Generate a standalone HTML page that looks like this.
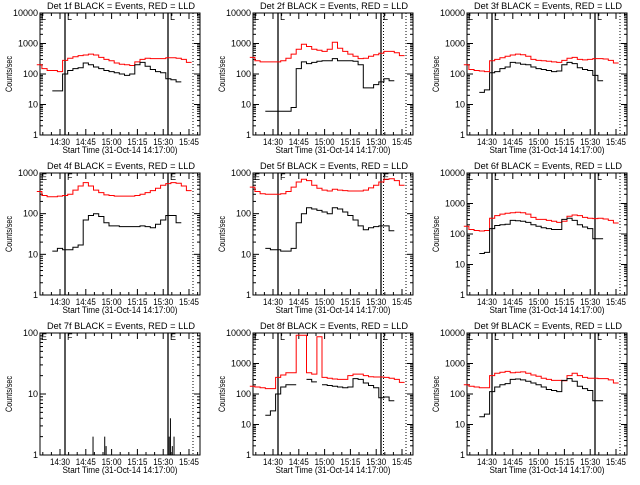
<!DOCTYPE html>
<html><head><meta charset="utf-8"><style>
body{margin:0;background:#fff;width:640px;height:480px;overflow:hidden}
svg text{font-family:"Liberation Sans",sans-serif;font-size:9px;fill:#000}
</style></head><body>
<svg id="c" width="640" height="480" viewBox="0 0 640 480"></svg>
<script>
// time grid in minutes after 14:00
const times=[18,21,24,27,30,33,36,39,42,45,48,51,54,57,60,63,66,69,72,75,78,81,84,87,90,93,96,99,102,105];
const tickLabels=["14:30","14:45","15:00","15:15","15:30","15:45"];
const tickTimes=[30,45,60,75,90,105];
const N=null;
const red1=[200,150,130,130,120,280,330,370,400,420,450,420,350,300,270,230,210,200,190,250,300,330,320,320,320,340,340,330,300,240];
const black1=[N,N,N,28,28,100,130,150,160,230,200,170,150,130,120,110,100,90,100,200,240,180,140,120,110,70,65,55,N,N];
const red2=[350,270,250,250,250,250,270,330,450,650,950,800,650,600,550,650,1100,700,550,450,380,320,330,380,430,480,550,550,500,400];
const black2=[N,N,N,6,6,6,6,6,8,150,250,220,240,260,270,270,320,270,270,270,260,200,35,35,45,55,70,60,N,N];
const red3=[200,140,130,125,120,270,300,340,380,420,450,430,380,300,280,270,260,250,240,280,330,350,300,290,300,320,320,310,280,230];
const black3=[N,N,N,25,30,110,120,150,170,240,230,210,200,170,150,140,130,120,125,200,240,220,160,140,130,90,60,N,N,N];
const red4=[350,280,260,260,270,280,300,380,480,580,480,380,330,290,280,270,270,270,270,280,300,330,370,420,500,550,580,560,480,370];
const black4=[N,N,N,12,14,13,13,15,17,70,90,100,85,60,50,50,48,48,48,48,50,48,45,55,70,90,90,60,N,N];
const red5=[450,350,310,300,300,300,310,350,450,600,700,650,500,420,380,360,400,380,370,360,360,360,380,430,500,600,700,720,650,500];
const black5=[N,N,N,14,13,13,12,12,14,60,100,140,130,120,110,100,140,130,110,90,70,50,40,45,48,50,50,38,N,N];
const red6=[180,140,130,125,130,330,400,450,480,500,520,500,450,350,300,300,280,260,240,260,380,420,400,350,330,320,330,310,280,230];
const black6=[N,N,N,23,25,150,190,200,210,280,270,260,240,200,180,160,150,140,140,300,330,280,200,170,150,70,70,N,N,N];
const spikeTimes7=[49.2,56,56.8,93.5,94.2,95.3,96.3];
const spikeVals7=[2,2,1.4,2,4,1.4,2];
const red8=[180,170,160,150,150,350,420,500,500,8500,8500,500,450,7500,350,330,310,300,300,400,450,450,400,370,360,360,350,330,300,240];
const black8=[N,N,N,20,28,100,170,200,200,N,N,300,250,N,200,190,180,170,160,170,320,300,230,190,160,75,80,60,N,N];
const red9=[200,180,170,160,160,400,480,520,550,500,520,530,480,420,380,330,300,280,280,270,400,480,400,350,330,330,320,320,290,230];
const black9=[N,N,N,18,22,120,170,200,220,300,310,290,260,230,200,170,140,130,120,280,320,260,180,150,130,60,60,N,N,N];
const detNames=["1f","2f","3f","4f","5f","6f","7f","8f","9f"];
const decades=[4,4,4,3,3,4,2,4,4];
const reds=[red1,red2,red3,red4,red5,red6,null,red8,red9];
const blacks=[black1,black2,black3,black4,black5,black6,null,black8,black9];
const extraDotted=[false,true,false,false,true,false,false,true,false];

const svg=document.getElementById('c');
const NS="http://www.w3.org/2000/svg";
function mk(tag,attrs,parent){const e=document.createElementNS(NS,tag);for(const k in attrs)e.setAttribute(k,attrs[k]);(parent||svg).appendChild(e);return e;}
function txt(s,x,y,anchor,parent,len,size){const a={x:x,y:y,'text-anchor':anchor||'start'};if(len){a.textLength=len;a.lengthAdjust='spacingAndGlyphs';}if(size)a['font-size']=size;const t=mk('text',a,parent);t.textContent=s;return t;}

for(let p=0;p<9;p++){
  const col=p%3,row=Math.floor(p/3);
  const ox=Math.round(col*213.33),oy=row*160;
  const L=ox+40,R=ox+200,T=oy+13,B=oy+135;
  const nd=decades[p];
  const g=mk('g',{});
  
  
  const xs=t=>L+(t-18.37)*1.72;
  const ys=v=>B-Math.log10(v)/nd*(B-T);
  const tt=txt('Det '+detNames[p]+' BLACK = Events, RED = LLD',ox+121,oy+9,'middle',g,148,10);
  
  
  const yl=txt('Counts/sec',0,0,'middle',g,36,8);
  yl.setAttribute('transform','translate('+(ox+12)+','+(oy+74)+') rotate(-90)');
  
  
  const xl=txt('Start Time (31-Oct-14 14:17:00)',ox+120,oy+153,'middle',g,115,9);
  
  
  for(let d=0;d<=nd;d++){
    const y=ys(Math.pow(10,d));
    mk('line',{x1:L,x2:L+6,y1:y,y2:y,stroke:'#000'},g);
    mk('line',{x1:R-6,x2:R,y1:y,y2:y,stroke:'#000'},g);
    const s=String(Math.pow(10,d));
    const lab=txt(s,L-2,y+3,'end',g,s.length*5,8);
    
    
    if(d<nd)for(let m=2;m<10;m++){const ym=ys(m*Math.pow(10,d));
      mk('line',{x1:L,x2:L+3,y1:ym,y2:ym,stroke:'#000'},g);
      mk('line',{x1:R-3,x2:R,y1:ym,y2:ym,stroke:'#000'},g);}
  }
  for(let t=20;t<=110;t+=5){const x=xs(t);const major=(t%15===0);const h=major?6:3;
    mk('line',{x1:x,x2:x,y1:B,y2:B-h,stroke:'#000'},g);
    mk('line',{x1:x,x2:x,y1:T,y2:T+h,stroke:'#000'},g);}
  tickTimes.forEach((t,i)=>{const lab=txt(tickLabels[i],xs(t),B+10,'middle',g,20,8);
    
    });
  const fr=mk('rect',{x:L,y:T,width:R-L,height:B-T,fill:'none',stroke:'#000'},g);
  
  
  mk('line',{x1:ox+65,x2:ox+65,y1:T,y2:B,stroke:'#000','stroke-width':1.3},g);
  mk('line',{x1:ox+168,x2:ox+168,y1:T,y2:B,stroke:'#000','stroke-width':1.3},g);
  mk('line',{x1:ox+193,x2:ox+193,y1:T,y2:B,stroke:'#000','stroke-dasharray':'1,2'},g);
  if(extraDotted[p])mk('line',{x1:ox+170.5,x2:ox+170.5,y1:T,y2:B,stroke:'#000','stroke-dasharray':'1,2'},g);
  txt(nd<4?'E':'L',ox+41,T+7,'start',g,null,9);
  txt(nd<4?'F':'L',ox+67,T+7,'start',g,null,9);
  txt(nd<4?'E':'L',ox+170,T+7,'start',g,null,9);
  function step(arr,color,name){
    let d='',pen=false;
    for(let i=0;i<times.length;i++){
      const v=arr[i];
      if(v==null){pen=false;continue;}
      const x0=xs(times[i]-1.5),x1=xs(times[i]+1.5),y=ys(v);
      d+=(pen?'L':'M')+x0.toFixed(1)+','+y.toFixed(1)+'L'+x1.toFixed(1)+','+y.toFixed(1);
      pen=true;
    }
    const path=mk('path',{d:d,fill:'none',stroke:color,'stroke-width':1},g);
    
    
  }
  if(reds[p])step(reds[p],'#f00','lld-series');
  if(blacks[p])step(blacks[p],'#000','events-series');
  if(p===6){
    spikeTimes7.forEach((t,i)=>{
      const s=mk('line',{x1:xs(t),x2:xs(t),y1:B,y2:ys(spikeVals7[i]),stroke:'#000'},g);
      
      
    });
  }
}
</script>
</body></html>
